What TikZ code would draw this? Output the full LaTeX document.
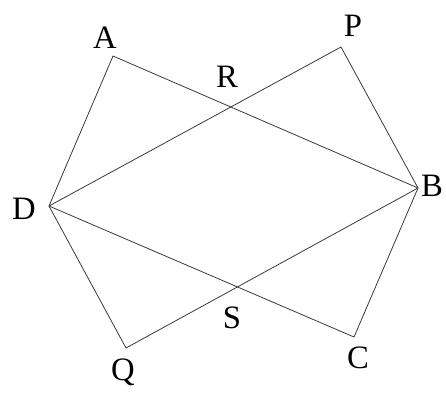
\documentclass[tikz,border=0pt]{standalone}
\usepackage{fontspec}
\setmainfont{Liberation Serif}
\usepackage{tikz}
\usetikzlibrary{intersections}
\definecolor{cLine}{HTML}{3A3A3A}

\begin{document}
\begin{tikzpicture}[x=0.75pt,y=-0.75pt,
      seg/.style={draw=cLine,line width=0.6pt,line join=round},
      lbl/.style={font=\fontsize{24.5}{24.5}\selectfont,inner sep=0pt,
                  text height=16.2pt,text depth=0pt,anchor=center}]
    \useasboundingbox (0,0) rectangle (446,394);
    % vertices
    \coordinate (A) at (113,56);
    \coordinate (P) at (341,47);
    \coordinate (B) at (418,188);
    \coordinate (C) at (354,337);
    \coordinate (Q) at (126,348);
    \coordinate (D) at (49,206);
    % sides
    \draw[seg,name path=ab] (D) -- (A) -- (B);
    \draw[seg,name path=dp] (D) -- (P) -- (B);
    \draw[seg,name path=dc] (D) -- (C) -- (B);
    \draw[seg,name path=qb] (D) -- (Q) -- (B);
    \path[name intersections={of=ab and dp,by=R}];
    \path[name intersections={of=dc and qb,by=S}];
    % labels
    \node[lbl] (lA) at (105,38) {A};
    \node[lbl] (lP) at (353,26) {P};
    \node[lbl] (lR) at (227,77) {R};
    \node[lbl] (lB) at (432,186) {B};
    \node[lbl] (lD) at (24,209) {D};
    \node[lbl] (lS) at (232,318) {S};
    \node[lbl] (lQ) at (123,370) {Q};
    \node[lbl] (lC) at (358,358) {C};
\end{tikzpicture}
\end{document}
